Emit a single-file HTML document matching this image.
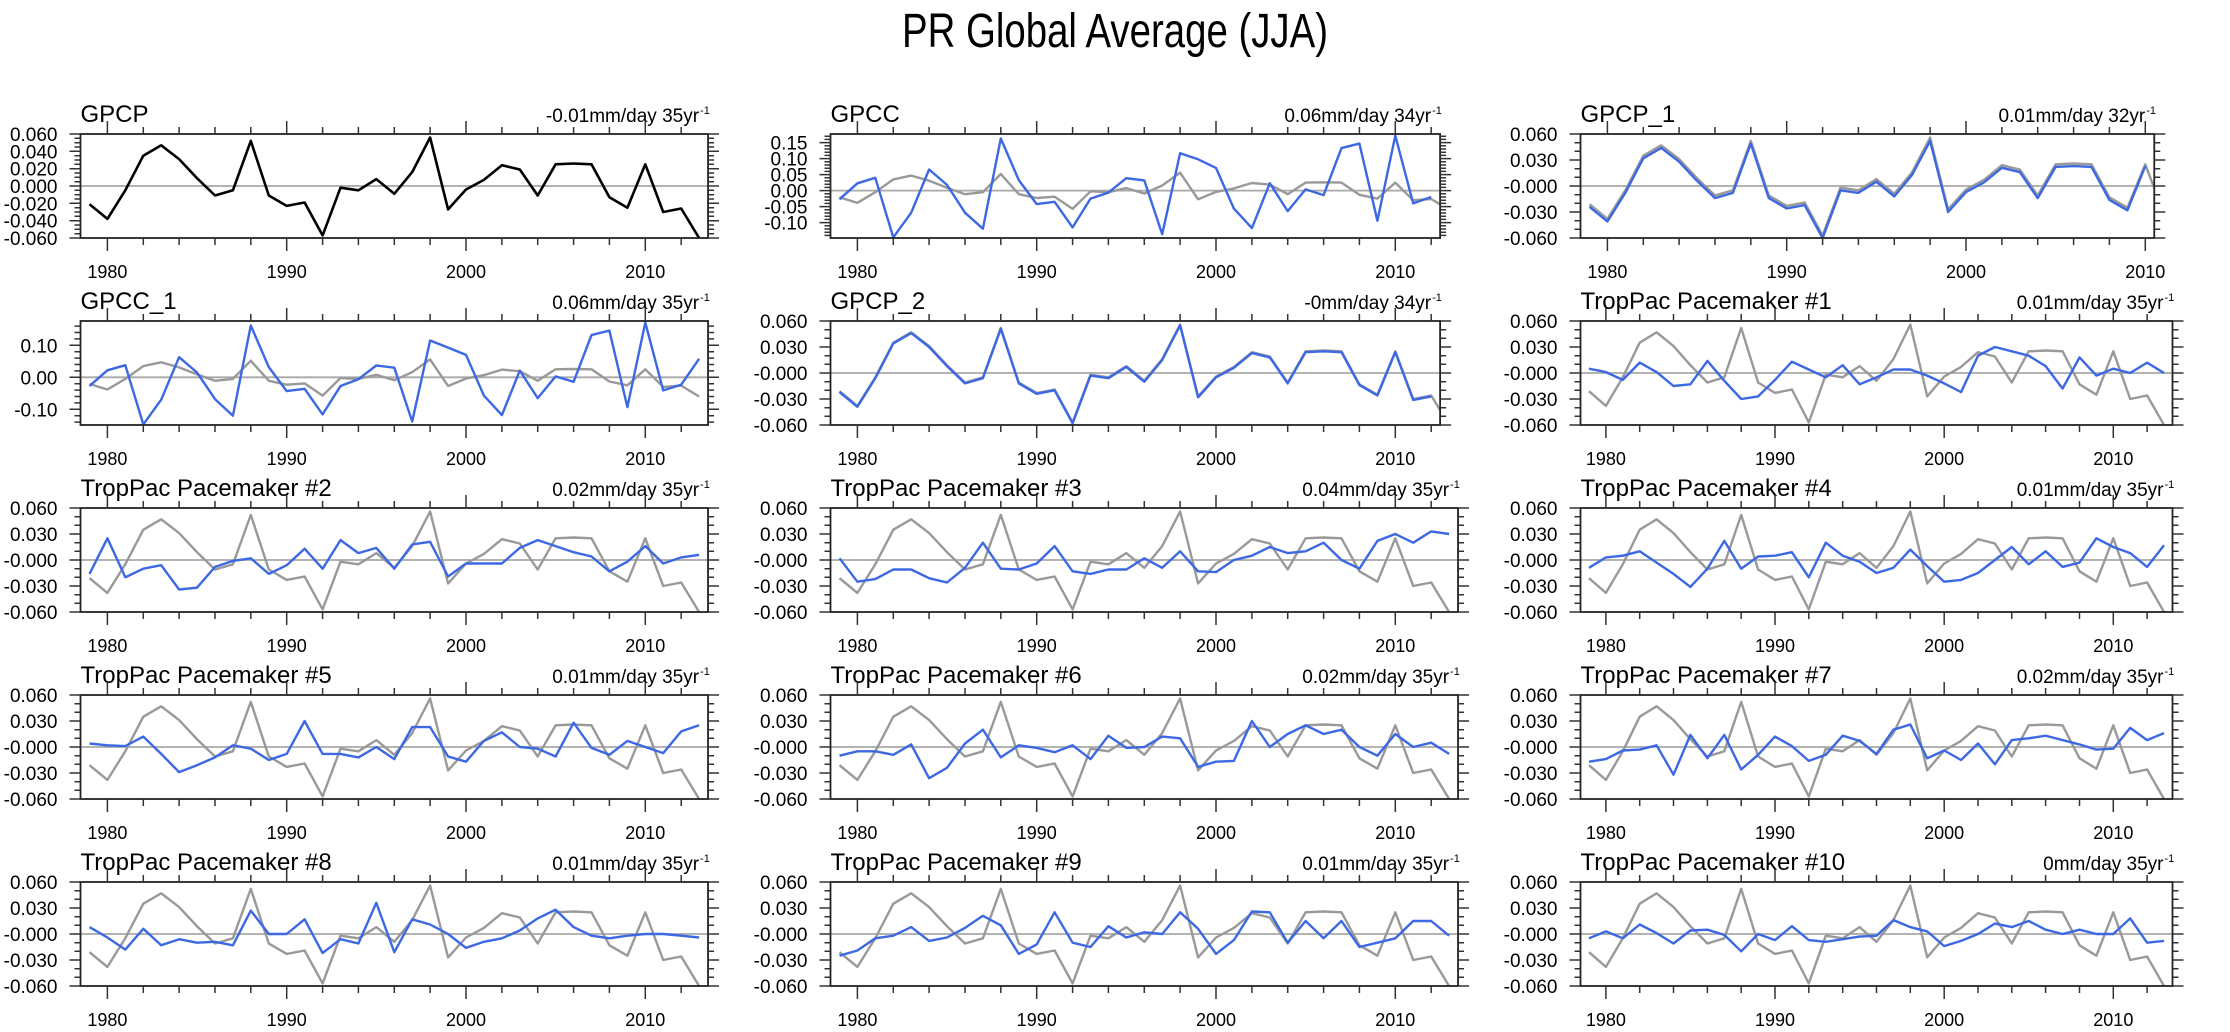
<!DOCTYPE html>
<html><head><meta charset="utf-8"><title>PR Global Average (JJA)</title>
<style>
html,body{margin:0;padding:0;background:#fff;}
svg{display:block;font-family:"Liberation Sans",Arial,sans-serif;}
</style></head>
<body>
<svg id="chart" xmlns="http://www.w3.org/2000/svg" width="2230" height="1032" viewBox="0 0 2230 1032"></svg>
<script>
// ---------- data ----------
const startYear = 1979;
const xTickYears = [1980, 1990, 2000, 2010];
const panelTitles = ["GPCP","GPCC","GPCP_1","GPCC_1","GPCP_2","TropPac Pacemaker #1","TropPac Pacemaker #2","TropPac Pacemaker #3","TropPac Pacemaker #4","TropPac Pacemaker #5","TropPac Pacemaker #6","TropPac Pacemaker #7","TropPac Pacemaker #8","TropPac Pacemaker #9","TropPac Pacemaker #10"];
const trendLabels = ["-0.01mm/day 35yr","0.06mm/day 34yr","0.01mm/day 32yr","0.06mm/day 35yr","-0mm/day 34yr","0.01mm/day 35yr","0.02mm/day 35yr","0.04mm/day 35yr","0.01mm/day 35yr","0.01mm/day 35yr","0.02mm/day 35yr","0.02mm/day 35yr","0.01mm/day 35yr","0.01mm/day 35yr","0mm/day 35yr"];
const gpcp = [-0.021,-0.038,-0.005,0.035,0.047,0.031,0.009,-0.011,-0.005,0.052,-0.011,-0.023,-0.019,-0.057,-0.002,-0.005,0.008,-0.009,0.016,0.056,-0.027,-0.004,0.007,0.024,0.019,-0.011,0.025,0.026,0.025,-0.013,-0.025,0.025,-0.030,-0.026,-0.060];
const gpcc = [-0.027,0.023,0.040,-0.146,-0.069,0.066,0.018,-0.069,-0.119,0.163,0.033,-0.042,-0.035,-0.115,-0.025,-0.006,0.039,0.032,-0.136,0.117,0.098,0.071,-0.056,-0.117,0.023,-0.064,0.004,-0.014,0.133,0.147,-0.094,0.172,-0.040,-0.020];
const gpcp1 = [-0.024,-0.041,-0.008,0.032,0.044,0.028,0.006,-0.014,-0.008,0.049,-0.014,-0.026,-0.022,-0.060,-0.005,-0.008,0.005,-0.012,0.013,0.052,-0.030,-0.007,0.004,0.021,0.016,-0.014,0.022,0.023,0.022,-0.016,-0.028,0.023];
const gpcc1 = [-0.027,0.022,0.038,-0.147,-0.070,0.063,0.015,-0.068,-0.120,0.162,0.032,-0.043,-0.036,-0.116,-0.027,-0.006,0.037,0.030,-0.138,0.115,0.093,0.070,-0.057,-0.118,0.021,-0.065,0.003,-0.014,0.132,0.146,-0.093,0.171,-0.041,-0.023,0.058];
const gpcp2 = [-0.022,-0.039,-0.006,0.034,0.046,0.030,0.008,-0.012,-0.006,0.051,-0.012,-0.024,-0.020,-0.058,-0.003,-0.006,0.007,-0.010,0.015,0.055,-0.028,-0.005,0.006,0.023,0.018,-0.012,0.024,0.025,0.024,-0.014,-0.026,0.024,-0.031,-0.027];
const tp1 = [0.005,0.001,-0.008,0.012,0.001,-0.015,-0.013,0.014,-0.009,-0.030,-0.027,-0.008,0.013,0.004,-0.005,0.009,-0.013,-0.005,0.004,0.004,-0.003,-0.012,-0.022,0.020,0.030,0.025,0.020,0.008,-0.018,0.018,-0.003,0.005,0.000,0.012,0.000];
const tp2 = [-0.016,0.025,-0.020,-0.010,-0.006,-0.034,-0.032,-0.008,-0.001,0.002,-0.016,-0.006,0.013,-0.010,0.023,0.008,0.014,-0.010,0.018,0.021,-0.019,-0.004,-0.004,-0.004,0.014,0.023,0.016,0.009,0.004,-0.013,-0.002,0.016,-0.004,0.003,0.006];
const tp3 = [0.002,-0.025,-0.022,-0.011,-0.011,-0.021,-0.026,-0.009,0.020,-0.010,-0.011,-0.004,0.016,-0.013,-0.016,-0.011,-0.011,0.002,-0.009,0.010,-0.013,-0.014,0.000,0.005,0.015,0.008,0.010,0.020,0.000,-0.010,0.022,0.030,0.020,0.033,0.030];
const tp4 = [-0.009,0.003,0.005,0.010,-0.003,-0.016,-0.031,-0.010,0.022,-0.010,0.004,0.005,0.009,-0.020,0.020,0.005,-0.002,-0.015,-0.009,0.012,-0.007,-0.025,-0.023,-0.015,0.000,0.015,-0.005,0.010,-0.008,-0.003,0.025,0.015,0.008,-0.008,0.017];
const tp5 = [0.004,0.002,0.001,0.012,-0.008,-0.029,-0.021,-0.012,0.002,-0.002,-0.015,-0.008,0.030,-0.008,-0.008,-0.012,0.000,-0.014,0.023,0.023,-0.011,-0.017,0.007,0.017,0.000,-0.002,-0.011,0.028,-0.001,-0.009,0.007,0.000,-0.007,0.018,0.025];
const tp6 = [-0.010,-0.005,-0.005,-0.009,0.003,-0.036,-0.024,0.004,0.020,-0.012,0.002,-0.001,-0.006,0.002,-0.014,0.013,-0.001,0.000,0.012,0.010,-0.023,-0.017,-0.016,0.030,0.000,0.015,0.025,0.015,0.020,0.000,-0.010,0.015,0.000,0.005,-0.008];
const tp7 = [-0.017,-0.014,-0.004,-0.003,0.002,-0.032,0.014,-0.013,0.014,-0.026,-0.009,0.012,0.001,-0.016,-0.009,0.013,0.007,-0.008,0.020,0.026,-0.013,-0.004,-0.015,0.004,-0.020,0.008,0.010,0.013,0.008,0.003,-0.003,-0.002,0.022,0.008,0.016];
const tp8 = [0.008,-0.004,-0.018,0.006,-0.013,-0.006,-0.010,-0.009,-0.013,0.027,0.000,0.000,0.017,-0.022,-0.006,-0.011,0.036,-0.021,0.017,0.011,0.000,-0.016,-0.009,-0.005,0.004,0.018,0.028,0.008,-0.002,-0.005,-0.002,0.000,0.000,-0.002,-0.004];
const tp9 = [-0.025,-0.019,-0.005,-0.002,0.008,-0.008,-0.004,0.007,0.021,0.010,-0.023,-0.012,0.025,-0.010,-0.015,0.009,-0.004,0.002,0.000,0.025,0.006,-0.023,-0.007,0.026,0.025,-0.010,0.015,-0.005,0.015,-0.015,-0.010,-0.005,0.015,0.015,-0.002];
const tp10 = [-0.005,0.003,-0.005,0.011,0.001,-0.011,0.004,0.005,-0.001,-0.020,0.000,-0.007,0.009,-0.007,-0.009,-0.006,-0.003,-0.002,0.016,0.008,0.003,-0.014,-0.008,0.000,0.012,0.008,0.015,0.005,0.000,0.005,0.000,0.000,0.018,-0.010,-0.008];
// y-axis tick values per panel
const ticksA = [0.06,0.04,0.02,0,-0.02,-0.04,-0.06];
const ticksB = [0.15,0.10,0.05,0,-0.05,-0.10];
const ticksC = [0.06,0.03,0,-0.03,-0.06];
const ticksD = [0.10,0,-0.10];
const tickLabelsA = ["0.060","0.040","0.020","0.000","-0.020","-0.040","-0.060"];
const tickLabelsB = ["0.15","0.10","0.05","0.00","-0.05","-0.10"];
const tickLabelsC = ["0.060","0.030","-0.000","-0.030","-0.060"];
const tickLabelsD = ["0.10","0.00","-0.10"];

// ---------- layout ----------
const colLeft = [80.5, 830.5, 1580.5];
const pxPerYear = 17.93;
const col3FullWidth = 592;
const rowTop0 = 134, rowPitch = 187, boxH = 104;
const BLUE = "#3d68e3", GRAY = "#999999";
const NS = "http://www.w3.org/2000/svg";
const svg = document.getElementById('chart');

function mk(tag, attrs, parent){
  const e = document.createElementNS(NS, tag);
  for (const k in attrs) e.setAttribute(k, attrs[k]);
  (parent||svg).appendChild(e);
  return e;
}
function txt(parent, x, y, s, size, anchor, sx){
  const g = mk('g', {transform:`translate(${x},${y}) scale(${sx||1},1)`}, parent);
  const t = mk('text', {x:0, y:0, 'font-size':size, 'text-anchor':anchor||'start', fill:'#000'}, g);
  t.textContent = s;
  return t;
}

// main title
const mt = txt(svg, 1115, 47, "PR Global Average (JJA)", 48, 'middle', 0.8);



const panels = [
  {blue:null, ref:gpcp, refColor:'#000', ticks:ticksA, labels:tickLabelsA, minor:0.005, fixed:[-0.06,0.06]},
  {blue:gpcc, ref:gpcp, ticks:ticksB, labels:tickLabelsB, minor:0.01, fixed:null},
  {blue:gpcp1, ref:gpcp, ticks:ticksC, labels:tickLabelsC, minor:0.01, fixed:[-0.06,0.06]},
  {blue:gpcc1, ref:gpcp, ticks:ticksD, labels:tickLabelsD, minor:0.02, fixed:null},
  {blue:gpcp2, ref:gpcp, ticks:ticksC, labels:tickLabelsC, minor:0.01, fixed:[-0.06,0.06]},
  {blue:tp1, ref:gpcp, ticks:ticksC, labels:tickLabelsC, minor:0.01, fixed:[-0.06,0.06]},
  {blue:tp2, ref:gpcp, ticks:ticksC, labels:tickLabelsC, minor:0.01, fixed:[-0.06,0.06]},
  {blue:tp3, ref:gpcp, ticks:ticksC, labels:tickLabelsC, minor:0.01, fixed:[-0.06,0.06]},
  {blue:tp4, ref:gpcp, ticks:ticksC, labels:tickLabelsC, minor:0.01, fixed:[-0.06,0.06]},
  {blue:tp5, ref:gpcp, ticks:ticksC, labels:tickLabelsC, minor:0.01, fixed:[-0.06,0.06]},
  {blue:tp6, ref:gpcp, ticks:ticksC, labels:tickLabelsC, minor:0.01, fixed:[-0.06,0.06]},
  {blue:tp7, ref:gpcp, ticks:ticksC, labels:tickLabelsC, minor:0.01, fixed:[-0.06,0.06]},
  {blue:tp8, ref:gpcp, ticks:ticksC, labels:tickLabelsC, minor:0.01, fixed:[-0.06,0.06]},
  {blue:tp9, ref:gpcp, ticks:ticksC, labels:tickLabelsC, minor:0.01, fixed:[-0.06,0.06]},
  {blue:tp10, ref:gpcp, ticks:ticksC, labels:tickLabelsC, minor:0.01, fixed:[-0.06,0.06]}
];

panels.forEach((p, i) => {
  const r = Math.floor(i / 3), ci = i % 3;
  const L = colLeft[ci];
  const top = rowTop0 + r * rowPitch, bot = top + boxH;
  const g = mk('g', {});
  
  

  const main = p.blue || p.ref;
  const nYears = main.length;
  const x0 = startYear - 0.5, x1 = startYear + nYears - 0.5;
  const ppy = (ci === 2 && nYears === 35) ? col3FullWidth / 35 : pxPerYear;
  const R = L + nYears * ppy;
  const xs = y => L + (y - x0) * ppy;
  let yMin, yMax;
  if (p.fixed) { yMin = p.fixed[0]; yMax = p.fixed[1]; }
  else { yMin = Math.min(...main) - 0.002; yMax = Math.max(...main) + 0.005; }
  const ys = v => bot - (v - yMin) / (yMax - yMin) * boxH;

  // titles
  const t1 = txt(g, L, top - 12, panelTitles[i], 24, 'start');
  
  
  const t2 = txt(g, R - 9, top - 12, trendLabels[i], 19, 'end');
  
  
  const sup = txt(g, R - 8, top - 20, "-1", 11, 'start');
  
  

  // clip
  const cid = 'clip' + i;
  const cp = mk('clipPath', {id: cid}, g);
  mk('rect', {x: L, y: top, width: R - L, height: boxH}, cp);

  // zero line
  const zl = mk('line', {x1: L, x2: R, y1: ys(0), y2: ys(0), stroke: '#a8a8a8', 'stroke-width': 1.8}, g);
  
  

  // series
  const lg = mk('g', {'clip-path': `url(#${cid})`}, g);
  const refPts = p.ref.map((v, k) => xs(startYear + k).toFixed(1) + ',' + ys(v).toFixed(1)).join(' ');
  const rl = mk('polyline', {points: refPts, fill: 'none', stroke: p.refColor || GRAY, 'stroke-width': p.refColor ? 2.6 : 2.4, 'stroke-linejoin': 'round'}, lg);
  
  
  if (p.blue) {
    const bPts = p.blue.map((v, k) => xs(startYear + k).toFixed(1) + ',' + ys(v).toFixed(1)).join(' ');
    const bl = mk('polyline', {points: bPts, fill: 'none', stroke: BLUE, 'stroke-width': 2.4, 'stroke-linejoin': 'round'}, lg);
    
    
  }

  // box
  const box = mk('rect', {x: L, y: top, width: R - L, height: boxH, fill: 'none', stroke: '#222', 'stroke-width': 1.8}, g);
  
  

  // x ticks
  let d = '';
  for (let yr = Math.ceil(x0); yr <= x1; yr++) {
    if (yr % 2 !== 0) continue;
    const len = (yr % 10 === 0) ? 13 : 7;
    const X = xs(yr).toFixed(1);
    d += `M${X},${top}V${top - len}M${X},${bot}V${bot + len}`;
  }
  // y ticks
  for (let v = Math.ceil(yMin / p.minor - 1e-6) * p.minor; v <= yMax + 1e-9; v += p.minor) {
    const Y = ys(v).toFixed(1);
    d += `M${L},${Y}H${L - 6}M${R},${Y}H${R + 6}`;
  }
  p.ticks.forEach(v => {
    const Y = ys(v).toFixed(1);
    d += `M${L},${Y}H${L - 11}M${R},${Y}H${R + 11}`;
  });
  const tk = mk('path', {d: d, stroke: '#333', 'stroke-width': 1.5, fill: 'none'}, g);
  
  

  // y labels
  p.ticks.forEach((v, k) => {
    const t = txt(g, L - 23, ys(v) + 7, p.labels[k], 19, 'end');
    
    
  });
  // x labels
  xTickYears.forEach(yr => {
    if (yr < x0 || yr > x1) return;
    const t = txt(g, xs(yr), bot + 40, String(yr), 18, 'middle');
    
    
  });
});
</script>
</body></html>
